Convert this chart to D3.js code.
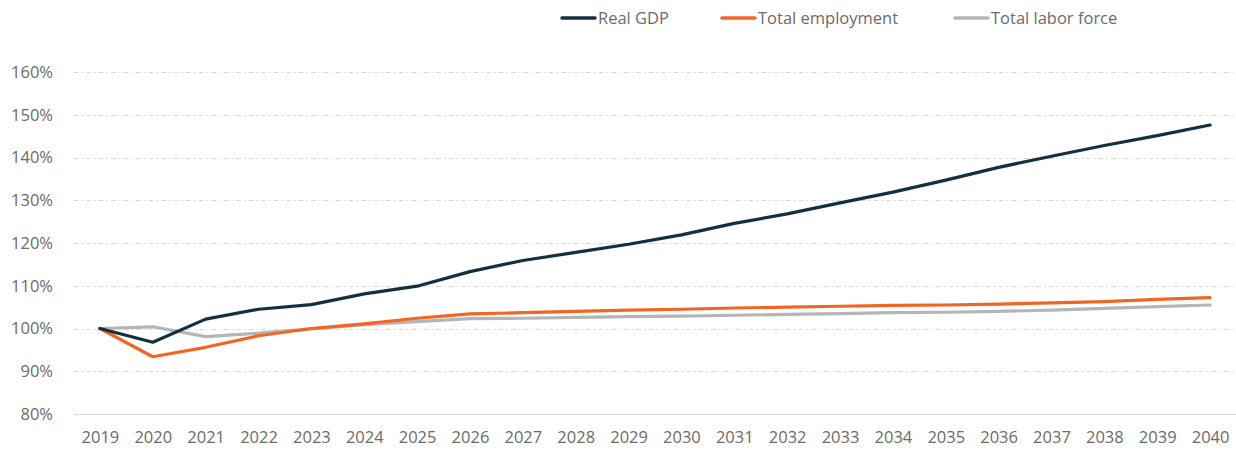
<!DOCTYPE html>
<html>
<head>
<meta charset="utf-8">
<script src="https://cdn.jsdelivr.net/npm/d3@7"></script>
<style>
  html, body { margin: 0; padding: 0; background: #fff; }
  svg { display: block; font-family: "Open Sans", sans-serif; }
</style>
</head>
<body>
<svg id="chart" width="1236" height="452"></svg>
<script>
// Years on the category axis
const years = ["2019","2020","2021","2022","2023","2024","2025","2026","2027","2028","2029",
               "2030","2031","2032","2033","2034","2035","2036","2037","2038","2039","2040"];

// Index values, 2019 = 100%
const realGDP = [100, 96.8, 102.2, 104.5, 105.6, 108.1, 109.9, 113.3, 115.9, 117.8, 119.7,
                 121.9, 124.6, 126.8, 129.4, 131.9, 134.7, 137.7, 140.3, 142.8, 145.1, 147.6];
const totalEmployment = [100, 93.4, 95.6, 98.3, 100.0, 101.1, 102.4, 103.4, 103.7, 104.0, 104.3,
                         104.5, 104.8, 105.0, 105.2, 105.4, 105.5, 105.7, 106.0, 106.3, 106.8, 107.2];
const totalLaborForce = [100, 100.4, 98.1, 98.9, 99.9, 100.9, 101.6, 102.3, 102.4, 102.6, 102.8,
                         102.9, 103.1, 103.3, 103.5, 103.7, 103.8, 104.0, 104.3, 104.7, 105.1, 105.5];

const yTicks = [80, 90, 100, 110, 120, 130, 140, 150, 160];

const seriesNames = ["Real GDP", "Total employment", "Total labor force"];
const seriesColors = ["#13303f", "#f26522", "#b5b5b7"];
const seriesValues = [realGDP, totalEmployment, totalLaborForce];

const svg = d3.select("#chart");
const plot = { left: 73.5, right: 1236.5, top: 72, bottom: 414 };

const x = d3.scalePoint().domain(years).range([plot.left, plot.right]).padding(0.5);
const y = d3.scaleLinear().domain([80, 160]).range([plot.bottom, plot.top]);

// Horizontal gridlines (dash-dot), solid baseline at 80%
const grid = svg.append("g");
grid.selectAll("line")
  .data(yTicks)
  .join("line")
  .attr("x1", plot.left).attr("x2", plot.right)
  .attr("y1", d => Math.round(y(d)) + 0.5).attr("y2", d => Math.round(y(d)) + 0.5)
  .attr("stroke", "#d9d9d9")
  .attr("stroke-width", 1)
  .attr("stroke-dasharray", d => d === 80 ? null : "5,3,1.5,3");

// Y axis labels
const yAxis = d3.axisLeft(y).tickValues(yTicks).tickSize(0).tickPadding(0)
  .tickFormat(d => d + "%");
svg.append("g")
  .attr("transform", `translate(${53},0)`)
  .call(yAxis)
  .call(g => g.select(".domain").remove())
  .call(g => g.selectAll("text")
    .attr("fill", "#6b6b6b")
    .attr("font-size", "16.5px")
    .attr("font-family", "'Open Sans', sans-serif"));

// X axis labels
const xAxis = d3.axisBottom(x).tickSize(0).tickPadding(0);
svg.append("g")
  .attr("transform", `translate(0,${431})`)
  .call(xAxis)
  .call(g => g.select(".domain").remove())
  .call(g => g.selectAll("text")
    .attr("fill", "#6b6b6b")
    .attr("font-size", "16.5px")
    .attr("font-family", "'Open Sans', sans-serif"));

// Series lines
const line = d3.line().x((d, i) => x(years[i])).y(d => y(d));
svg.append("g")
  .selectAll("path")
  .data([2, 1, 0])
  .join("path")
  .attr("d", k => line(seriesValues[k]))
  .attr("fill", "none")
  .attr("stroke", k => seriesColors[k])
  .attr("stroke-width", 3.2)
  .attr("stroke-linejoin", "round")
  .attr("stroke-linecap", "round");

// Legend
const legendX = [562, 722, 955];
const legend = svg.append("g")
  .selectAll("g")
  .data(seriesNames)
  .join("g")
  .attr("transform", (d, i) => `translate(${legendX[i]},18)`);
legend.append("line")
  .attr("x1", 0).attr("x2", 33)
  .attr("y1", 0).attr("y2", 0)
  .attr("stroke", (d, i) => seriesColors[i])
  .attr("stroke-width", 3.5)
  .attr("stroke-linecap", "round");
legend.append("text")
  .attr("x", 36).attr("y", 0)
  .attr("dy", "0.35em")
  .attr("fill", "#6b6b6b")
  .attr("font-size", "16.5px")
  .text(d => d);
</script>
</body>
</html>
